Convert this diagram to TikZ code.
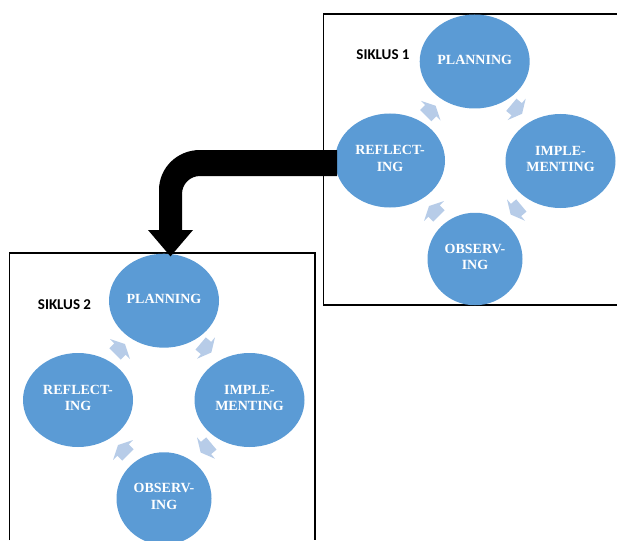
\documentclass[tikz,border=0pt]{standalone}
\usepackage{fontspec}
\setmainfont{Liberation Serif}
\newfontfamily\labelfont{Carlito}
\usetikzlibrary{shapes.geometric}
\definecolor{cycleblue}{HTML}{5B9BD5}
\definecolor{arrowblue}{HTML}{B7CCE8}
\tikzset{
  x=1pt,y=-1pt,
  phase/.style={ellipse,fill=cycleblue,text=white,font=\bfseries\fontsize{14}{16.5}\selectfont,align=center,inner sep=0pt,outer sep=0pt,minimum width=110pt,minimum height=94pt},
  narrowphase/.style={phase,minimum width=95pt,minimum height=92.5pt},
  frameline/.style={draw=black,line width=1.8pt},
  cycletitle/.style={font=\labelfont\bfseries\fontsize{15}{17}\selectfont,text=black,inner sep=0pt},
  smallarrow/.style={fill=arrowblue,draw=none},
}
\newcommand{\smallblock}[2]{%
  \fill[smallarrow,shift={(#1)},rotate=#2] (-7,-8) -- (0,-8) -- (0,-14) -- (7,0) -- (0,14) -- (0,8) -- (-7,8) -- cycle;}
\newcommand{\liftup}{\\[-12.5pt]\mbox{}}
\begin{document}
\begin{tikzpicture}
\useasboundingbox (0,0) rectangle (617,540);
% frames
\draw[frameline] (617,14) -- (323.5,14) -- (323.5,305) -- (617,305);
\draw[frameline] (9.5,540) -- (9.5,252.7) -- (315,252.7) -- (315,540);
% cycle 1
\node[phase] (p1) at (474.7,61.5) {PLANNING\liftup};
\node[phase] (i1) at (560.5,161) {IMPLE-\\MENTING\liftup};
\node[narrowphase] (o1) at (475,259) {OBSERV-\\ING\liftup};
\node[phase] (r1) at (390,160.5) {REFLECT-\\ING\liftup};
\node[cycletitle] (t1) at (383,55) {SIKLUS 1};
\coordinate (a1) at (516.7,109.3);
\coordinate (a2) at (516,210);
\coordinate (a3) at (434,211);
\coordinate (a4) at (430.7,110.7);
\smallblock{a1}{-40}
\smallblock{a2}{-140}
\smallblock{a3}{135}
\smallblock{a4}{45}
% cycle 2
\node[phase] (p2) at (164,300.7) {PLANNING\liftup};
\node[phase] (i2) at (249.5,400) {IMPLE-\\MENTING\liftup};
\node[narrowphase] (o2) at (164,498.5) {OBSERV-\\ING\liftup};
\node[phase] (r2) at (78,400) {REFLECT-\\ING\liftup};
\node[cycletitle] (t2) at (64.5,304.5) {SIKLUS 2};
\coordinate (b1) at (206,348);
\coordinate (b2) at (206,448);
\coordinate (b3) at (123,450);
\coordinate (b4) at (120,349);
\smallblock{b1}{-40}
\smallblock{b2}{-140}
\smallblock{b3}{135}
\smallblock{b4}{45}
% thick connector
\coordinate (start) at ([xshift=2pt]r1.west);
\coordinate (tip) at ([xshift=6.5pt,yshift=-2.7pt]p2.north);
\fill[black] (start |- 0,150) -- (200,150) .. controls (177,150) and (159,168) .. (159,190) -- (159,230) -- (148,230) -- (tip) -- (193,230) -- (182,230) -- (182,194) .. controls (182,184) and (190,176) .. (200,176) -- (start |- 0,176) -- cycle;
\end{tikzpicture}
\end{document}
